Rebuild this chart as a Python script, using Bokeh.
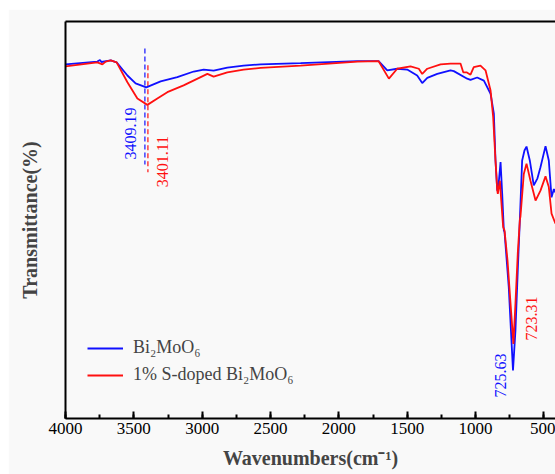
import numpy as np
from bokeh.plotting import figure
from bokeh.models import (Range1d, LinearAxis, FixedTicker, SingleIntervalTicker,
                          Legend, LegendItem, Label)
from bokeh.embed import file_html
from bokeh.resources import INLINE

# ---- data ----
blue_wn = [4000, 3767, 3748, 3737, 3669, 3626, 3547, 3487, 3409, 3304, 3182, 3062, 2989,
           2916, 2816, 2697, 2572, 2280, 1865, 1709, 1646, 1573, 1500, 1427, 1390, 1353,
           1280, 1183, 1159, 1061, 1037, 988, 939, 890, 866, 854, 841, 832, 817, 805, 793,
           788, 757, 741, 726, 708, 691, 676, 659, 642, 627, 603, 574, 547, 525, 488, 464,
           444, 427, 415]
blue_t = [89.2, 89.9, 90.3, 89.8, 90.2, 89.7, 86.4, 84.4, 83.4, 84.9, 86.0, 87.4, 87.9,
          87.6, 88.4, 88.9, 89.2, 89.5, 90.0, 90.0, 87.7, 88.1, 87.9, 86.4, 84.5, 85.8,
          86.8, 87.7, 87.5, 85.6, 85.3, 85.9, 85.1, 81.8, 76.8, 65.0, 57.4, 58.7, 64.6,
          56.6, 47.4, 47.0, 33.1, 22.2, 12.1, 22.2, 37.3, 49.9, 65.0, 67.5, 68.5, 65.0,
          58.7, 60.5, 63.3, 68.6, 65.0, 55.7, 57.8, 56.9]

red_wn = [4000, 3767, 3730, 3706, 3669, 3626, 3547, 3474, 3401, 3328, 3255, 3136, 3011,
          2962, 2916, 2816, 2697, 2572, 2280, 1865, 1709, 1634, 1573, 1476, 1415, 1390,
          1353, 1256, 1183, 1110, 1090, 1066, 1037, 1013, 964, 927, 890, 871, 854, 841,
          837, 822, 812, 798, 788, 766, 744, 723, 708, 691, 676, 671, 647, 627, 598, 561,
          525, 488, 464, 444, 415]
red_t = [88.7, 89.7, 89.2, 89.9, 90.2, 89.7, 84.7, 80.6, 79.0, 80.6, 82.2, 83.9, 86.0,
         86.8, 86.1, 87.2, 87.9, 88.3, 88.9, 89.9, 90.0, 85.6, 88.1, 88.7, 88.1, 86.8,
         88.1, 89.2, 89.4, 89.4, 87.2, 87.2, 86.6, 88.5, 88.9, 87.7, 82.6, 75.9, 65.0,
         57.4, 56.6, 59.9, 54.9, 48.2, 47.4, 39.8, 29.0, 18.8, 29.0, 41.6, 49.9, 51.0,
         61.6, 64.2, 59.9, 54.9, 57.4, 61.0, 58.3, 51.6, 49.1]

series_labels = ["Bi\u2082MoO\u2086", "1% S-doped Bi\u2082MoO\u2086"]
series_colors = ["#1010ff", "#ff1010"]

# peak annotations
peak_text = ["3409.19", "3401.11", "725.63", "723.31"]
peak_text_x = [3523, 3291, 817, 591]
peak_text_y = [71.8, 64.7, 10.8, 25.2]
peak_colors = ["#1010ff", "#ff1010", "#1010ff", "#ff1010"]
dash_x = [3419, 3397]
dash_y0 = [93.2, 89.0]
dash_y1 = [64.0, 62.0]
dash_colors = ["#1010ff", "#ff1010"]

x_ticks_interval = 500

FONT = "Liberation Serif"
BG = "#f9f9f9"

p = figure(width=547, height=465, x_range=Range1d(4000, 415), y_range=Range1d(0, 100),
           output_backend="svg", toolbar_location=None,
           min_border_left=57, min_border_right=0, min_border_top=12, min_border_bottom=56)
p.margin = (9, 0, 0, 8)
p.background_fill_color = BG
p.border_fill_color = BG
p.outline_line_color = None
p.grid.visible = False

# x axis
xa = p.xaxis[0]
xa.ticker = SingleIntervalTicker(interval=x_ticks_interval, num_minor_ticks=2)
xa.axis_line_width = 2
xa.major_tick_in = 7
xa.major_tick_out = 0
xa.minor_tick_in = 4
xa.minor_tick_out = 0
xa.major_tick_line_width = 2
xa.minor_tick_line_width = 2
xa.major_label_text_font = FONT
xa.major_label_text_font_size = "17px"
xa.major_label_text_color = "black"
xa.major_label_standoff = 4
xa.axis_label = "Wavenumbers(cm\u207b\u00b9)"
xa.axis_label_text_font = FONT
xa.axis_label_text_font_style = "bold"
xa.axis_label_text_font_size = "20px"
xa.axis_label_standoff = 10

# y axis
ya = p.yaxis[0]
ya.ticker = FixedTicker(ticks=[])
ya.minor_tick_line_color = None
ya.major_tick_line_color = None
ya.axis_line_width = 2
ya.axis_label = "Transmittance(%)"
ya.axis_label_text_font = FONT
ya.axis_label_text_font_style = "bold"
ya.axis_label_text_font_size = "20px"
ya.axis_label_standoff = 25

# top border
top = LinearAxis(ticker=FixedTicker(ticks=[]), axis_line_width=2,
                 major_tick_line_color=None, minor_tick_line_color=None,
                 major_label_text_font_size="0px")
p.add_layout(top, "above")

# dashed guide lines
p.segment(x0=dash_x, y0=dash_y0, x1=dash_x, y1=dash_y1, line_color=dash_colors,
          line_width=1.2, line_dash="5 3")

r_blue = p.line(blue_wn, blue_t, line_color=series_colors[0], line_width=1.8)
r_red = p.line(red_wn, red_t, line_color=series_colors[1], line_width=1.8)

for t, x, y, c in zip(peak_text, peak_text_x, peak_text_y, peak_colors):
    p.add_layout(Label(x=x, y=y, text=t, text_color=c, angle=np.pi / 2,
                       text_align="center", text_baseline="middle",
                       text_font=FONT, text_font_size="16px"))

legend = Legend(items=[LegendItem(label=series_labels[0], renderers=[r_blue]),
                       LegendItem(label=series_labels[1], renderers=[r_red])],
                location=(22, 33))
legend.label_text_font = FONT
legend.label_text_font_size = "18px"
legend.glyph_width = 36
legend.glyph_height = 20
legend.label_height = 20
legend.label_standoff = 10
legend.spacing = 6
legend.padding = 0
legend.margin = 0
legend.border_line_color = None
legend.background_fill_alpha = 0
p.add_layout(legend)

open("out.html", "w").write(file_html(p, INLINE))
